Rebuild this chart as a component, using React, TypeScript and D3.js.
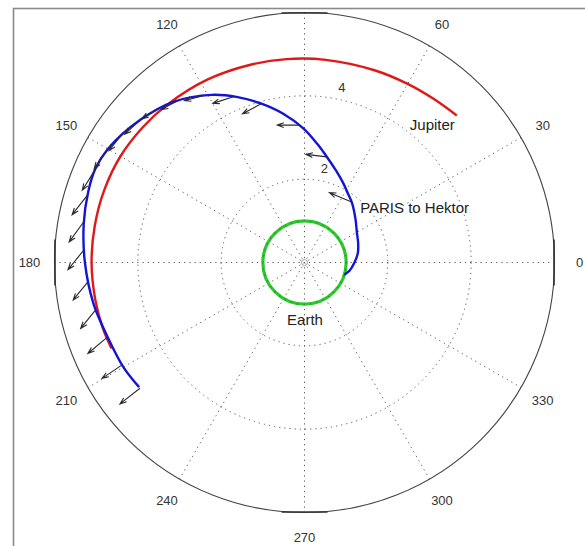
import React from "react";
import * as d3 from "d3";

// ---- data ----
const angleTicks = [0, 30, 60, 90, 120, 150, 180, 210, 240, 270, 300, 330];
const ringTicks = [2, 4];
const rMax = 6;

const earthRadius = [1];

const jupiterTheta = [44, 52, 60, 70, 84, 95, 105, 118, 131, 140, 150, 160, 170, 180, 190, 198, 204];
const jupiterR = [5.08, 5.0, 4.95, 4.91, 4.89, 4.9, 4.92, 4.97, 5.02, 5.06, 5.1, 5.11, 5.11, 5.11, 5.1, 5.09, 5.07];

const parisTheta = [-17, -10, 0, 10, 20, 29, 40, 51, 58, 64, 71, 78, 84, 90.5, 98, 105.6, 112, 119, 129, 139, 150, 156, 162, 170, 180, 191, 201, 210, 217];
const parisR = [1.0, 1.1, 1.2, 1.3, 1.37, 1.44, 1.6, 1.82, 1.96, 2.12, 2.33, 2.59, 2.87, 3.22, 3.6, 3.97, 4.28, 4.6, 4.97, 5.22, 5.45, 5.5, 5.46, 5.38, 5.27, 5.16, 5.05, 5.02, 4.97];

// thrust arrows: base position (theta, r), direction (deg) and length (AU)
const thrustTheta = [52, 78.1, 92, 105.1, 113.2, 121.1, 128, 134, 139.3, 144.6, 150.5, 156.3, 162.9, 169.6, 176.7, 185.1, 192.8, 200.7, 209.3, 217.4];
const thrustR = [1.84, 2.59, 3.3, 3.95, 4.33, 4.68, 4.93, 5.1, 5.22, 5.35, 5.45, 5.5, 5.46, 5.39, 5.3, 5.22, 5.14, 5.05, 5.02, 4.97];
const thrustDir = [157, 173, 180, 208, 198, 195, 208, 211, 222, 231, 235, 238, 232, 234, 231, 231, 231, 220, 214, 218];
const thrustLen = [0.58, 0.5, 0.54, 0.52, 0.52, 0.48, 0.45, 0.42, 0.48, 0.53, 0.53, 0.56, 0.58, 0.59, 0.61, 0.56, 0.57, 0.62, 0.58, 0.61];

const labels = [
  { text: "Jupiter", theta: 51.6, r: 4.07, anchor: "start" },
  { text: "PARIS to Hektor", theta: 41.4, r: 1.78, anchor: "start" },
  { text: "Earth", theta: -89.5, r: 1.5, anchor: "middle" },
];

// ---- layout ----
const W = 585;
const H = 546;
const cx = 304.5;
const cy = 262.5;
const R = 250;

const rScale = d3.scaleLinear().domain([0, rMax]).range([0, R]);
const rad = (deg: number) => (deg * Math.PI) / 180;
const px = (theta: number, r: number): [number, number] => [
  cx + rScale(r) * Math.cos(rad(theta)),
  cy - rScale(r) * Math.sin(rad(theta)),
];

const FONT = "'Liberation Sans', Arial, Helvetica, sans-serif";

export default function App() {
  // smooth in polar space, then map to screen
  const polarLine = d3
    .lineRadial<[number, number]>()
    .angle((d) => rad(90 - d[0]))
    .radius((d) => rScale(d[1]))
    .curve(d3.curveCatmullRom.alpha(0.5));
  const jupiterPath = polarLine(jupiterTheta.map((t, i) => [t, jupiterR[i]]))!;
  const parisPath = polarLine(parisTheta.map((t, i) => [t, parisR[i]]))!;

  const arrows = thrustTheta.map((t, i) => {
    const [bx, by] = px(t, thrustR[i]);
    const L = rScale(thrustLen[i]);
    const a = rad(thrustDir[i]);
    const tx = bx + L * Math.cos(a);
    const ty = by - L * Math.sin(a);
    const hl = 7;
    const spread = rad(20);
    const back = a + Math.PI;
    const h1x = tx + hl * Math.cos(back + spread);
    const h1y = ty - hl * Math.sin(back + spread);
    const h2x = tx + hl * Math.cos(back - spread);
    const h2y = ty - hl * Math.sin(back - spread);
    return `M${bx},${by}L${tx},${ty}M${h1x},${h1y}L${tx},${ty}L${h2x},${h2y}`;
  });

  const tangentHalf = 23;

  // angle labels that fall inside the figure (the 90 label lies above the page in the reference)
  const visibleAngleLabels = angleTicks
    .map((a) => ({ a, pos: px(a, rMax * 1.1) }))
    .filter((d) => d.pos[1] > 6 && d.pos[1] < H - 4);

  return (
    <svg
      width={W}
      height={H}
      style={{ position: "absolute", left: 0, top: 0, background: "#fff" }}
      fontFamily={FONT}
    >
      <rect x={0} y={0} width={W} height={H} fill="#fff" />
      {/* figure frame */}
      <rect x={13.5} y={8.5} width={700} height={700} fill="none" stroke="#8a8a8a" strokeWidth={1.6} />

      {/* spokes */}
      {angleTicks.filter((a) => a < 180).map((a) => {
        const [x1, y1] = px(a, rMax);
        const [x2, y2] = px(a + 180, rMax);
        return (
          <line key={a} x1={x1} y1={y1} x2={x2} y2={y2} stroke="#555" strokeWidth={1} strokeDasharray="1.2,4" />
        );
      })}
      {/* rings */}
      {ringTicks.map((v) => (
        <circle key={v} cx={cx} cy={cy} r={rScale(v)} fill="none" stroke="#555" strokeWidth={1} strokeDasharray="1.2,4" />
      ))}
      <circle cx={cx} cy={cy} r={3} fill="none" stroke="#888" strokeWidth={0.8} />
      {/* outer circle */}
      <circle cx={cx} cy={cy} r={rScale(rMax)} fill="none" stroke="#444" strokeWidth={1.1} />
      {/* axis box tangent remnants */}
      <line x1={cx - tangentHalf} x2={cx + tangentHalf} y1={cy - R + 0.5} y2={cy - R + 0.5} stroke="#333" strokeWidth={1.6} />
      <line x1={cx - tangentHalf} x2={cx + tangentHalf} y1={cy + R - 0.5} y2={cy + R - 0.5} stroke="#333" strokeWidth={1.6} />
      <line y1={cy - tangentHalf} y2={cy + tangentHalf} x1={cx - R + 0.5} x2={cx - R + 0.5} stroke="#333" strokeWidth={1.6} />
      <line y1={cy - tangentHalf} y2={cy + tangentHalf} x1={cx + R - 0.5} x2={cx + R - 0.5} stroke="#333" strokeWidth={1.6} />

      {/* angle labels */}
      {visibleAngleLabels.map(({ a, pos }) => (
        <text key={a} x={pos[0]} y={pos[1]} fontSize={13} fill="#333" textAnchor="middle" dominantBaseline="central">
          {a}
        </text>
      ))}
      {/* ring labels */}
      {ringTicks.map((v) => {
        const [x, y] = px(78, v + 0.3);
        return (
          <text key={v} x={x} y={y} fontSize={13} fill="#333" textAnchor="middle" dominantBaseline="central">
            {v}
          </text>
        );
      })}

      {/* Earth orbit */}
      {earthRadius.map((r) => (
        <g key={r}>
          <circle cx={cx} cy={cy} r={rScale(r)} fill="none" stroke="#2ec82e" strokeWidth={3.2} />
          <circle cx={cx} cy={cy} r={rScale(r)} fill="none" stroke="#1a7a1a" strokeWidth={1.4} strokeDasharray="1.5,5" opacity={0.55} />
        </g>
      ))}

      <g transform={`translate(${cx},${cy})`}>
        {/* Jupiter orbit */}
        <path d={jupiterPath} fill="none" stroke="#e01818" strokeWidth={2.4} />
        {/* PARIS trajectory */}
        <path d={parisPath} fill="none" stroke="#1414d8" strokeWidth={2.4} />
      </g>

      {/* thrust arrows */}
      {arrows.map((d, i) => (
        <path key={i} d={d} fill="none" stroke="#2a2a2a" strokeWidth={1.1} />
      ))}

      {/* labels */}
      {labels.map((l) => {
        const [x, y] = px(l.theta, l.r);
        return (
          <text key={l.text} x={x} y={y} fontSize={15} fill="#222" textAnchor={l.anchor as any}>
            {l.text}
          </text>
        );
      })}
    </svg>
  );
}
